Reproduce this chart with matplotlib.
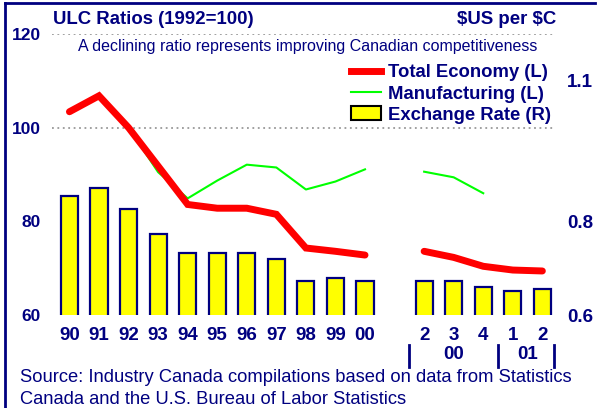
import numpy as np
import matplotlib.pyplot as plt
from matplotlib.lines import Line2D
from matplotlib.patches import Patch

plt.rcParams['font.family'] = ['Liberation Sans', 'DejaVu Sans']
NAVY = '#000080'

# ======= DATA =======
labels = ["90", "91", "92", "93", "94", "95", "96", "97", "98", "99", "00",
          "2", "3", "4", "1", "2"]
positions = [0, 1, 2, 3, 4, 5, 6, 7, 8, 9, 10, 12, 13, 14, 15, 16]

# ULC ratios (1992=100), left axis
total_economy = [103.4, 106.8, 100.0, 91.8, 83.6, 82.8, 82.8, 81.5, 74.3, 73.6, 72.8,
                 73.6, 72.3, 70.4, 69.6, 69.4]
manufacturing = [np.nan, np.nan, 100.0, 90.5, 84.9, 88.7, 92.1, 91.5, 86.8, 88.5, 91.1,
                 90.6, 89.4, 86.0, np.nan, np.nan]
# $US per $C, right axis
exchange_rate = [0.855, 0.872, 0.826, 0.774, 0.732, 0.732, 0.732, 0.719, 0.672, 0.678, 0.672,
                 0.672, 0.672, 0.660, 0.651, 0.655]

n_annual = 11

# ======= FIGURE =======
fig = plt.figure(figsize=(6.02, 4.08), dpi=100)
W, H = 602, 408
ax = fig.add_axes([52 / W, 1 - 315 / H, 501 / W, 281 / H])
ax2 = ax.twinx()
ax.set_zorder(ax2.get_zorder() + 1)
ax.patch.set_visible(False)

# bars (right axis)
ax2.bar(positions, exchange_rate, width=0.58, color='#FFFF00', edgecolor=NAVY,
        linewidth=1.6, zorder=2)
ax2.set_ylim(0.6, 1.2)

# lines (left axis), with gap between annual and quarterly
for sl in (slice(0, n_annual), slice(n_annual, None)):
    ax.plot(positions[sl], manufacturing[sl], color='#00FF00', lw=1.5)
    ax.plot(positions[sl], total_economy[sl], color='#FF0000', lw=5,
            solid_capstyle='round', solid_joinstyle='miter')

ax.set_ylim(60, 120)
ax.set_xlim(-0.59, 16.36)

# gridlines sit behind the bars
ax2.set_yticks([0.6, 0.8, 1.0, 1.2], minor=True)
ax2.grid(which='minor', axis='y', color='#999999', linestyle=(0, (1, 2)), lw=1.3, zorder=0)
ax2.set_axisbelow(True)

for a in (ax, ax2):
    for s in a.spines.values():
        s.set_visible(False)

ax.set_yticks([60, 80, 100, 120], labels=["60", "80", "100", "120"], fontweight='bold')
ax.tick_params(axis='y', length=0, pad=8, labelsize=12.5, labelcolor=NAVY)
ax2.set_yticks([0.6, 0.8, 1.1], labels=["0.6", "0.8", "1.1"], fontweight='bold')
ax2.tick_params(axis='y', which='both', length=0, pad=10, labelsize=13.5, labelcolor=NAVY)

ax.set_xticks(positions, labels=labels, fontweight='bold')
ax.tick_params(axis='x', length=0, pad=9, labelsize=13.5, labelcolor=NAVY)

# second tier of x labels
trans = ax.get_xaxis_transform()
for xs in (11.5, 14.5, 16.4):
    ax.plot([xs, xs], [-0.107, -0.185], color=NAVY, lw=2, transform=trans, clip_on=False)
ax.text(13, -0.142, "00", transform=trans, ha='center', va='center',
        fontsize=13.5, fontweight='bold', color=NAVY)
ax.text(15.5, -0.142, "01", transform=trans, ha='center', va='center',
        fontsize=13.5, fontweight='bold', color=NAVY)

# legend
handles = [Line2D([], [], color='#FF0000', lw=5),
           Line2D([], [], color='#00FF00', lw=1.5),
           Patch(facecolor='#FFFF00', edgecolor='black', lw=1.5)]
leg = fig.legend(handles, ["Total Economy (L)", "Manufacturing (L)", "Exchange Rate (R)"],
                 loc='upper left', bbox_to_anchor=(351 / W, 1 - 64 / H), frameon=False,
                 borderpad=0, borderaxespad=0, handlelength=1.65, handleheight=0.8,
                 handletextpad=0.33, labelspacing=0.2,
                 prop={'size': 13.3, 'weight': 'bold'})
for t in leg.get_texts():
    t.set_color(NAVY)

# titles and notes
fig.text(53 / W, 1 - 19 / H, "ULC Ratios (1992=100)", ha='left', va='center',
         fontsize=13.4, fontweight='bold', color=NAVY)
fig.text(556 / W, 1 - 19 / H, r"\$US per \$C", ha='right', va='center',
         fontsize=13.4, fontweight='bold', color=NAVY)
fig.text(308 / W, 1 - 46 / H, "A declining ratio represents improving Canadian competitiveness",
         ha='center', va='center', fontsize=11.5, color=NAVY)
fig.text(20 / W, 1 - 388.5 / H,
         "Source: Industry Canada compilations based on data from Statistics\n"
         "Canada and the U.S. Bureau of Labor Statistics",
         ha='left', va='center', fontsize=13.2, color=NAVY, linespacing=1.35)

# frame lines
fig.add_artist(Line2D([5 / W, 595 / W], [1 - 3 / H, 1 - 3 / H], color=NAVY, lw=2))
fig.add_artist(Line2D([5 / W, 5 / W], [1 - 3 / H, 0], color=NAVY, lw=2))

plt.savefig("out.png", dpi=100)
